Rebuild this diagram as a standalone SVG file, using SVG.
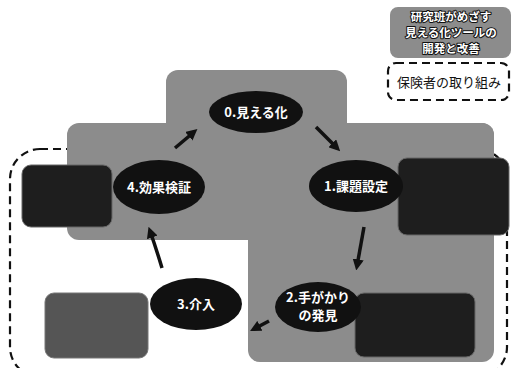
<svg xmlns="http://www.w3.org/2000/svg" width="512" height="368" viewBox="0 0 512 368">
<defs>
<style>
.gray{fill:#8c8c8c;}
.ell{fill:#111;}
.dbox{fill:#1e1e1e;stroke:#666;stroke-width:1;}
.lbl{font-family:"Noto Sans CJK JP","Noto Sans",sans-serif;font-size:13px;font-weight:bold;fill:#fff;text-anchor:middle;}
.leg{font-family:"Noto Sans CJK JP",sans-serif;font-size:11.5px;font-weight:bold;fill:#fff;stroke:#111;stroke-width:2;paint-order:stroke;stroke-linejoin:round;text-anchor:middle;}
.dash{fill:none;stroke:#111;stroke-width:2.2;stroke-dasharray:8 5;}
.arr{fill:none;stroke:#111;stroke-width:3.5;marker-end:url(#ah);}
</style>
<marker id="ah" viewBox="0 0 10 10" refX="6" refY="5" markerWidth="3.2" markerHeight="3.2" orient="auto">
<path d="M0,0 L10,5 L0,10 z" fill="#111"/>
</marker>
</defs>
<rect width="512" height="368" fill="#fff"/>
<g id="insurer-area">
<rect class="dash" x="10" y="149" width="497" height="228" rx="30"/>
</g>
<g id="research-area">
<rect class="gray" x="166" y="70" width="181" height="80" rx="12"/>
<rect class="gray" x="67" y="123" width="427" height="117" rx="12"/>
<rect class="gray" x="248" y="123" width="246" height="239" rx="12"/>
</g>
<g id="box4"><rect class="dbox" x="22" y="165" width="90" height="62" rx="9"/></g>
<g id="box1"><rect class="dbox" x="398" y="158" width="111" height="77" rx="9"/></g>
<g id="box2"><rect class="dbox" x="355" y="293" width="120" height="64" rx="9"/></g>
<g id="box3"><rect x="45" y="293" width="103" height="65" rx="9" fill="#555" stroke="#777"/></g>
<g id="n0"><ellipse class="ell" cx="256" cy="112" rx="47" ry="21"/><text class="lbl" x="256" y="117">0.見える化</text></g>
<g id="n1"><ellipse class="ell" cx="356" cy="186" rx="47" ry="26"/><text class="lbl" x="356" y="191">1.課題設定</text></g>
<g id="n2"><ellipse class="ell" cx="318" cy="307" rx="43" ry="25"/><text class="lbl" x="318" y="302">2.手がかり</text><text class="lbl" x="318" y="320">の発見</text></g>
<g id="n3"><ellipse class="ell" cx="196" cy="304" rx="46" ry="26"/><text class="lbl" x="196" y="309">3.介入</text></g>
<g id="n4"><ellipse class="ell" cx="159" cy="187" rx="46" ry="27"/><text class="lbl" x="159" y="192">4.効果検証</text></g>
<g id="connectors">
<line class="arr" x1="175" y1="148" x2="194" y2="132"/>
<line class="arr" x1="316" y1="127" x2="337" y2="148"/>
<line class="arr" x1="364" y1="227" x2="357" y2="266"/>
<line class="arr" x1="269" y1="321" x2="254" y2="329"/>
<path class="arr" d="M162,268 Q156,248 150,231"/>
</g>
<g id="legend-research">
<rect class="gray" x="390" y="7" width="121" height="51" rx="8"/>
<text class="leg" x="451" y="21">研究班がめざす</text>
<text class="leg" x="451" y="37">見える化ツールの</text>
<text class="leg" x="451" y="53">開発と改善</text>
</g>
<g id="legend-insurer">
<rect class="dash" x="388" y="63" width="121" height="37" rx="8"/>
<text x="449" y="87" font-family="Noto Sans CJK JP,sans-serif" font-size="13" fill="#111" text-anchor="middle">保険者の取り組み</text>
</g>
</svg>
